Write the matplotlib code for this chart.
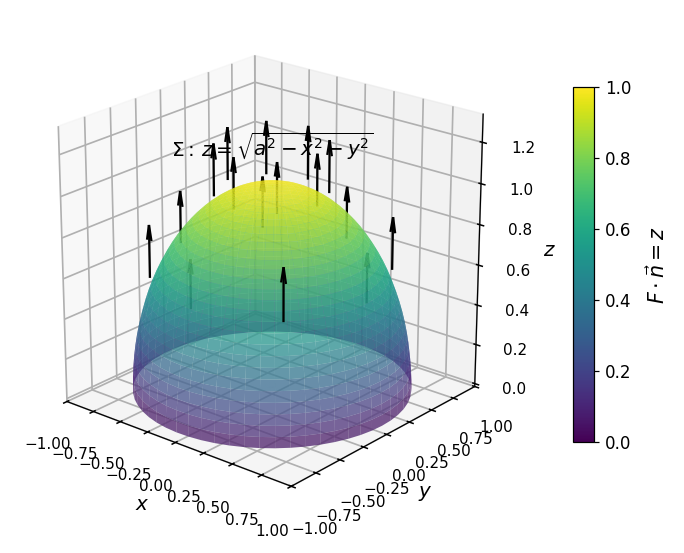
import numpy as np
import matplotlib
matplotlib.use("Agg")
import matplotlib.pyplot as plt
from matplotlib import cm
from matplotlib.colors import Normalize

dome_radius = 0.96
dome_floor = 0.02
arrow_length = 0.26
tail_x = [-0.62, -0.74, -0.95, -0.59, -0.55, -0.54, -0.54, -0.27, -0.40, 0.60, 0.04, -0.04, 0.05, 0.04, 0.07, 0.55]
tail_y = [-0.55, -0.10, 0.23, 0.08, 0.18, 0.23, 0.54, 0.26, 0.53, -0.60, 0.33, 0.53, 0.55, 0.76, 0.96, 0.62]
tail_z = [0.577, 0.635, 0.189, 0.858, 0.926, 0.771, 0.616, 0.984, 0.713, 0.596, 0.994, 0.810, 0.887, 0.616, 0.247, 0.577]
x_ticks = [-1.0, -0.75, -0.5, -0.25, 0.0, 0.25, 0.5, 0.75, 1.0]
z_ticks = [0.0, 0.2, 0.4, 0.6, 0.8, 1.0, 1.2]
cbar_ticks = [0.0, 0.2, 0.4, 0.6, 0.8, 1.0]

fig = plt.figure(figsize=(684 / 110, 553 / 110), dpi=110)
ax = fig.add_axes([0.025, 0.067, 0.726, 0.902], projection="3d")
ax.set_box_aspect((1, 1, 1), zoom=1.0)

# upper hemisphere coloured by height
theta = np.linspace(0, 2 * np.pi, 60)
phi = np.linspace(0, np.pi / 2, 30)
T, P = np.meshgrid(theta, phi)
X = dome_radius * np.sin(P) * np.cos(T)
Y = dome_radius * np.sin(P) * np.sin(T)
H = np.cos(P)
norm = Normalize(0, 1)
ax.plot_surface(X, Y, H + dome_floor, facecolors=cm.viridis(norm(H)), rstride=1, cstride=1,
                alpha=0.7, shade=False, linewidth=0)

# base disk under the dome
rr = np.linspace(0, dome_radius, 2)
R, T2 = np.meshgrid(rr, theta)
ax.plot_surface(R * np.cos(T2), R * np.sin(T2), np.full_like(R, dome_floor),
                color="#c0f0d0", alpha=0.25, shade=False, linewidth=0)

# each flux arrow is its own collection so it depth-sorts against the dome
for xv, yv, zv in zip(tail_x, tail_y, tail_z):
    ax.quiver(xv, yv, zv, 0, 0, 1, length=arrow_length, color="black",
              arrow_length_ratio=0.3, linewidth=1.5)

ax.text(0, 0, 1.21, r"$\Sigma:\, z=\sqrt{a^2-x^2-y^2}$", ha="center", va="center", fontsize=13)

ax.set_xlim(-1, 1)
ax.set_ylim(-1, 1)
ax.set_zlim(-0.015, 1.335)
ax.set_xticks(x_ticks)
ax.set_yticks(x_ticks)
ax.set_zticks(z_ticks)
ax.tick_params(labelsize=10, pad=8.5)
for axis in (ax.xaxis, ax.yaxis, ax.zaxis):
    axis._axinfo["grid"]["linewidth"] = 1.1
    axis._axinfo["axisline"]["linewidth"] = 1.1
    axis._axinfo["tick"]["linewidth"] = {True: 1.0, False: 0.7}
ax.set_xlabel("$x$", fontsize=13, labelpad=7)
ax.set_ylabel("$y$", fontsize=13, labelpad=7)
ax.set_zlabel("$z$", fontsize=13, labelpad=8)
ax.view_init(elev=22, azim=-50)

cax = fig.add_axes([573 / 684, 1 - 442 / 553, 21 / 684, 355 / 553])
cb = fig.colorbar(cm.ScalarMappable(norm=norm, cmap="viridis"), cax=cax)
cb.set_ticks(cbar_ticks)
cb.ax.tick_params(labelsize=11)
cb.set_label(r"$F\cdot\vec{n}=z$", fontsize=13.5, labelpad=10)

fig.savefig("out.png", dpi=110)
